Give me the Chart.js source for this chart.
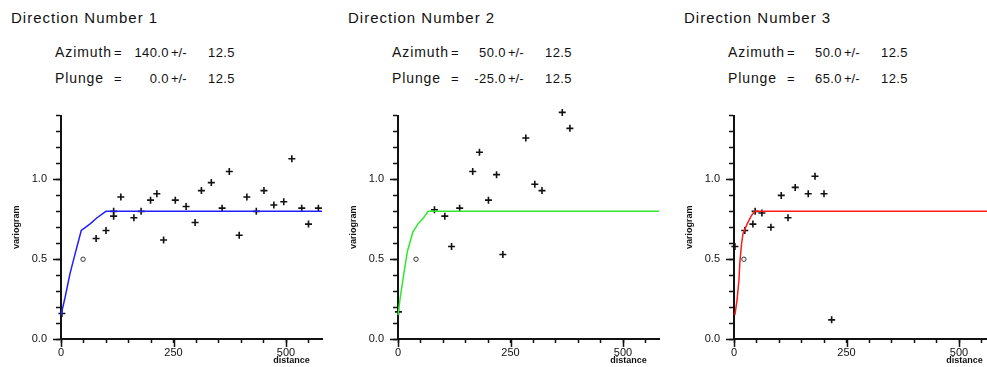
<!DOCTYPE html>
<html>
<head>
<meta charset="utf-8">
<title>Directional variograms</title>
<script src="https://cdn.jsdelivr.net/npm/chart.js@4.4.1/dist/chart.umd.min.js"></script>
<style>
  html, body { margin: 0; padding: 0; background: #fff; overflow: hidden; }
  body { width: 987px; height: 367px; position: relative; font-family: "Liberation Sans", Arial, sans-serif; color: #111; }
  .title { position: absolute; top: 10px; font-size: 15px; line-height: 15px; letter-spacing: 1px; white-space: pre; }
  .info { position: absolute; width: 200px; height: 13px; font-size: 13px; line-height: 13px; }
  .info span { position: absolute; top: 0; white-space: pre; }
  .info .lbl { font-size: 14px; line-height: 13px; letter-spacing: 0.9px; }
  .info .num { letter-spacing: 0.4px; }
</style>
<style>
  canvas { position: absolute; top: 100px; }
</style>
</head>
<body>
<script>
// ---- data ----
const panelTitles = ['Direction Number 1', 'Direction Number 2', 'Direction Number 3'];
const azimuths   = ['140.0', '50.0', '50.0'];
const plunges    = ['0.0', '-25.0', '65.0'];
const tolerances = ['12.5', '12.5', '12.5'];

const xTickLabels = ['0', '250', '500'];
const yTickLabels = ['0.0', '0.5', '1.0'];

// experimental points (+)
const dir1Lag   = [2, 78, 100, 117, 117, 133, 162, 178, 199, 213, 228, 254, 278, 298, 312, 334, 358, 374, 396, 413, 434, 451, 473, 495, 513, 535, 550, 572];
const dir1Gamma = [0.16, 0.63, 0.68, 0.77, 0.80, 0.89, 0.76, 0.80, 0.87, 0.91, 0.62, 0.87, 0.83, 0.73, 0.93, 0.98, 0.82, 1.05, 0.65, 0.89, 0.80, 0.93, 0.84, 0.86, 1.13, 0.82, 0.72, 0.82];

const dir2Lag   = [1, 81, 104, 119, 137, 166, 181, 201, 219, 233, 284, 304, 320, 365, 382];
const dir2Gamma = [0.17, 0.81, 0.77, 0.58, 0.82, 1.05, 1.17, 0.87, 1.03, 0.53, 1.26, 0.97, 0.93, 1.42, 1.32];

const dir3Lag   = [2, 24, 42, 47, 62, 82, 105, 120, 136, 165, 180, 200, 217];
const dir3Gamma = [0.58, 0.68, 0.72, 0.80, 0.79, 0.70, 0.90, 0.76, 0.95, 0.91, 1.02, 0.91, 0.12];

// the small open circle in each panel
const circleLag   = [49, 40, 22];
const circleGamma = [0.50, 0.50, 0.50];

// fitted model curves
const dir1ModelLag   = [0, 9, 20, 31, 45, 64, 80, 100, 580];
const dir1ModelGamma = [0.15, 0.26, 0.41, 0.53, 0.68, 0.72, 0.76, 0.80, 0.80];
const dir2ModelLag   = [0, 5, 13, 21, 33, 44, 57, 67, 580];
const dir2ModelGamma = [0.15, 0.26, 0.41, 0.55, 0.67, 0.72, 0.76, 0.80, 0.80];
const dir3ModelLag   = [2, 7, 11, 13, 17, 20, 29, 38, 46, 580];
const dir3ModelGamma = [0.15, 0.25, 0.37, 0.48, 0.60, 0.66, 0.72, 0.77, 0.80, 0.80];

const modelColors = ['#1f1fff', '#2ee82e', '#ff1a1a'];

// ---- layout ----
const FONT = "'Liberation Sans', Arial, sans-serif";
const plotLefts = [61, 398, 734];
const Y_AXIS_W = 56;

const lagSets   = [dir1Lag, dir2Lag, dir3Lag];
const gammaSets = [dir1Gamma, dir2Gamma, dir3Gamma];
const modelLagSets   = [dir1ModelLag, dir2ModelLag, dir3ModelLag];
const modelGammaSets = [dir1ModelGamma, dir2ModelGamma, dir3ModelGamma];

function toPoints(xs, ys) {
    return xs.map((x, i) => ({ x: x, y: ys[i] }));
}

// longer ticks at the labelled values + the "distance" note
const axisNotes = {
    id: 'axisNotes',
    afterDraw(chart) {
        const { ctx, chartArea: area, scales: { x, y } } = chart;
        ctx.save();
        ctx.strokeStyle = '#111';
        ctx.lineWidth = 1.5;
        ctx.beginPath();
        yTickLabels.forEach(t => {
            const py = Math.round(y.getPixelForValue(+t)) + 0.5;
            ctx.moveTo(area.left - 8, py);
            ctx.lineTo(area.left, py);
        });
        xTickLabels.forEach(t => {
            const px = Math.round(x.getPixelForValue(+t)) + 0.5;
            ctx.moveTo(px, area.bottom);
            ctx.lineTo(px, area.bottom + 8);
        });
        ctx.stroke();
        ctx.font = 'bold 9px ' + FONT;
        ctx.fillStyle = '#111';
        ctx.textAlign = 'center';
        ctx.textBaseline = 'middle';
        ctx.fillText('distance', x.getPixelForValue(512), area.bottom + 22);
        ctx.restore();
    }
};

function addText(cls, left, top, html) {
    const d = document.createElement('div');
    d.className = cls;
    d.style.left = left + 'px';
    d.style.top = top + 'px';
    d.innerHTML = html;
    document.body.appendChild(d);
    return d;
}

function infoLine(left, top, label, value, tol) {
    addText('info', left, top,
        '<span class="lbl" style="left:0">' + label + '</span>' +
        '<span style="left:59px">=</span>' +
        '<span class="num" style="left:0;width:114px;text-align:right">' + value + '</span>' +
        '<span style="left:116px">+/-</span>' +
        '<span class="num" style="left:0;width:180px;text-align:right">' + tol + '</span>');
}

function makePanel(i) {
    const left = plotLefts[i];
    addText('title', left - 50, 10, panelTitles[i]);
    infoLine(left - 6, 46, 'Azimuth', azimuths[i], tolerances[i]);
    infoLine(left - 6, 72, 'Plunge', plunges[i], tolerances[i]);

    const canvas = document.createElement('canvas');
    canvas.width = Y_AXIS_W + 261 + 8;
    canvas.height = 267;
    canvas.style.left = (left - Y_AXIS_W) + 'px';
    document.body.appendChild(canvas);

    new Chart(canvas, {
        type: 'scatter',
        data: {
            datasets: [
                {
                    type: 'line',
                    data: toPoints(modelLagSets[i], modelGammaSets[i]),
                    borderColor: modelColors[i],
                    borderWidth: 1.5,
                    pointRadius: 0,
                    tension: 0,
                    fill: false,
                    clip: false
                },
                {
                    data: toPoints(lagSets[i], gammaSets[i]),
                    pointStyle: 'cross',
                    pointRadius: 3.5,
                    borderColor: '#111',
                    borderWidth: 1.6,
                    clip: false
                },
                {
                    data: toPoints([circleLag[i]], [circleGamma[i]]),
                    pointStyle: 'circle',
                    pointRadius: 2.2,
                    borderColor: '#333',
                    backgroundColor: 'rgba(0,0,0,0)',
                    borderWidth: 1,
                    clip: false
                }
            ]
        },
        options: {
            responsive: false,
            animation: false,
            devicePixelRatio: 1,
            layout: { padding: { top: 13, left: 0, right: 8, bottom: 0 } },
            plugins: { legend: { display: false }, tooltip: { enabled: false } },
            scales: {
                x: {
                    type: 'linear',
                    min: 0,
                    max: 580,
                    afterFit(s) { s.height = 28; },
                    border: { color: '#111', width: 2 },
                    grid: { drawOnChartArea: false, tickLength: 4, tickColor: '#111', tickWidth: 1.5 },
                    ticks: {
                        stepSize: 50,
                        autoSkip: false,
                        maxRotation: 0,
                        includeBounds: false,
                        padding: 3,
                        color: '#111',
                        font: { size: 11, family: FONT },
                        callback: v => xTickLabels.includes(String(Math.round(v))) && Math.abs(v - Math.round(v)) < 1e-6 ? String(Math.round(v)) : ''
                    }
                },
                y: {
                    min: 0,
                    max: 1.4,
                    afterFit(s) { s.width = Y_AXIS_W; },
                    border: { color: '#111', width: 2 },
                    grid: { drawOnChartArea: false, tickLength: 5, tickColor: '#111', tickWidth: 1.5 },
                    ticks: {
                        stepSize: 0.1,
                        autoSkip: false,
                        padding: 9,
                        color: '#111',
                        font: { size: 11, family: FONT },
                        callback: v => {
                            const s = (Math.round(v * 10) / 10).toFixed(1);
                            return yTickLabels.includes(s) ? s : '';
                        }
                    },
                    title: {
                        display: true,
                        text: 'variogram',
                        color: '#111',
                        font: { size: 9, weight: 'bold', family: FONT },
                        padding: { top: 6.6, bottom: 0 }
                    }
                }
            }
        },
        plugins: [axisNotes]
    });
}

panelTitles.forEach((t, i) => makePanel(i));
</script>
</body>
</html>
